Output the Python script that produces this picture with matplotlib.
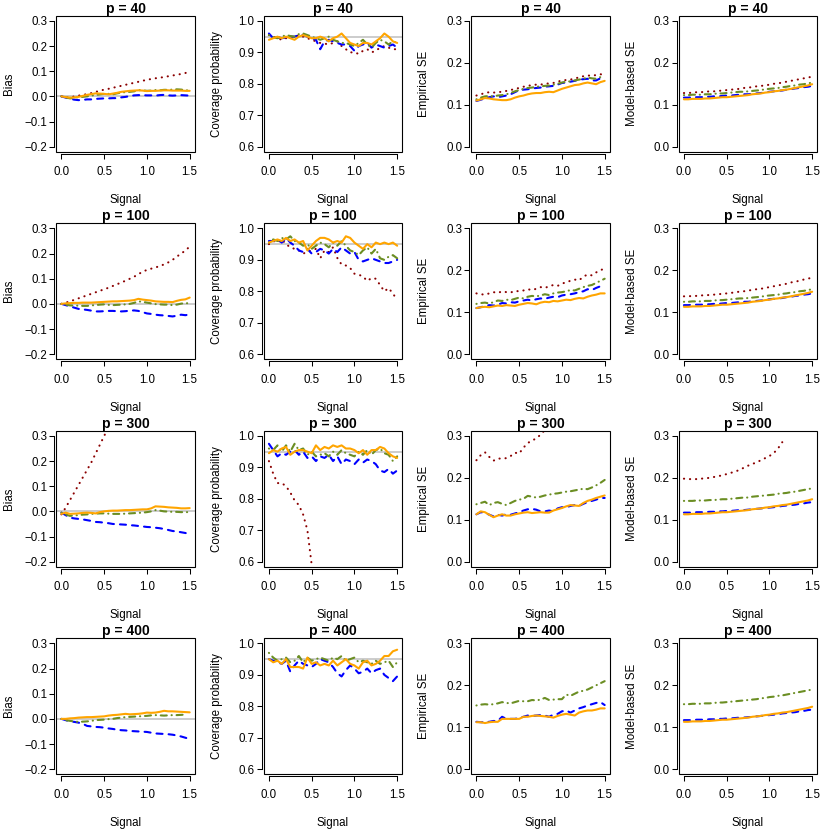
import numpy as np
import matplotlib.pyplot as plt
from matplotlib.patches import Rectangle

plt.rcParams['font.family'] = ['Liberation Sans', 'DejaVu Sans']

# ---------------------------
# 1. DATA
# ---------------------------
signal = [0.00, 0.05, 0.10, 0.15, 0.20, 0.25, 0.30, 0.35, 0.40, 0.45,
          0.50, 0.55, 0.60, 0.65, 0.70, 0.75, 0.80, 0.85, 0.90, 0.95,
          1.00, 1.05, 1.10, 1.15, 1.20, 1.25, 1.30, 1.35, 1.40, 1.45, 1.50]
p_values = [40, 100, 300, 400]

# --- p = 40 ---
bias_40_red = [0.000, -0.004, -0.005, 0.000, 0.003, 0.006, 0.009, 0.013, 0.018, 0.022,
               0.027, 0.030, 0.034, 0.038, 0.042, 0.046, 0.050, 0.054, 0.058, 0.062,
               0.066, 0.069, 0.072, 0.074, 0.077, 0.080, 0.083, 0.086, 0.089, 0.093, 0.097]
bias_40_blue = [0.000, -0.005, -0.010, -0.013, -0.015, -0.014, -0.012, -0.012, -0.010, -0.009,
                -0.008, -0.008, -0.007, -0.007, -0.004, -0.002, 0.001, 0.004, 0.005, 0.005,
                0.004, 0.004, 0.003, 0.005, 0.006, 0.004, 0.003, 0.004, 0.005, 0.004, 0.003]
bias_40_olive = [0.000, -0.004, -0.008, -0.006, -0.003, -0.002, 0.000, 0.003, 0.005, 0.008,
                 0.010, 0.010, 0.008, 0.012, 0.015, 0.017, 0.018, 0.020, 0.025, 0.024,
                 0.022, 0.023, 0.025, 0.024, 0.026, 0.026, 0.027, 0.028, 0.027, 0.025, 0.022]
bias_40_orange = [0.000, -0.003, -0.005, -0.004, -0.002, 0.002, 0.006, 0.009, 0.012, 0.011,
                  0.010, 0.008, 0.011, 0.014, 0.018, 0.020, 0.022, 0.023, 0.024, 0.023,
                  0.021, 0.022, 0.022, 0.023, 0.024, 0.024, 0.023, 0.023, 0.023, 0.022, 0.022]

cov_40_red = [0.955, 0.950, 0.945, 0.940, 0.945, 0.950, 0.948, 0.955, 0.950, 0.945,
              0.940, 0.935, 0.930, 0.928, 0.925, 0.930, 0.935, 0.920, 0.910, 0.900,
              0.900, 0.895, 0.905, 0.910, 0.900, 0.905, 0.915, 0.920, 0.915, 0.910, 0.910]
cov_40_blue = [0.960, 0.945, 0.948, 0.945, 0.947, 0.950, 0.950, 0.955, 0.955, 0.950,
               0.945, 0.940, 0.910, 0.935, 0.940, 0.935, 0.930, 0.925, 0.925, 0.920,
               0.905, 0.920, 0.925, 0.930, 0.915, 0.925, 0.920, 0.915, 0.920, 0.925, 0.915]
cov_40_olive = [0.955, 0.948, 0.945, 0.950, 0.955, 0.952, 0.950, 0.958, 0.960, 0.955,
                0.950, 0.945, 0.940, 0.945, 0.950, 0.940, 0.935, 0.930, 0.930, 0.925,
                0.920, 0.930, 0.940, 0.925, 0.915, 0.930, 0.940, 0.935, 0.925, 0.935, 0.930]
cov_40_orange = [0.940, 0.945, 0.950, 0.945, 0.950, 0.945, 0.940, 0.950, 0.955, 0.950,
                 0.945, 0.945, 0.950, 0.945, 0.935, 0.945, 0.950, 0.960, 0.945, 0.930,
                 0.925, 0.920, 0.930, 0.930, 0.925, 0.935, 0.945, 0.960, 0.950, 0.935, 0.930]

emp_40_red = [0.122, 0.125, 0.128, 0.130, 0.129, 0.130, 0.131, 0.133, 0.135, 0.138,
              0.140, 0.143, 0.145, 0.147, 0.148, 0.148, 0.150, 0.151, 0.152, 0.155,
              0.158, 0.159, 0.160, 0.163, 0.165, 0.168, 0.170, 0.169, 0.171, 0.173, 0.170]
emp_40_blue = [0.109, 0.112, 0.115, 0.118, 0.120, 0.118, 0.120, 0.122, 0.125, 0.130,
               0.135, 0.136, 0.137, 0.139, 0.140, 0.141, 0.143, 0.144, 0.145, 0.148,
               0.152, 0.153, 0.155, 0.157, 0.160, 0.161, 0.162, 0.158, 0.158, 0.163, 0.165]
emp_40_olive = [0.113, 0.117, 0.120, 0.121, 0.120, 0.122, 0.123, 0.125, 0.128, 0.132,
                0.135, 0.138, 0.140, 0.141, 0.143, 0.144, 0.145, 0.146, 0.148, 0.150,
                0.153, 0.155, 0.156, 0.158, 0.160, 0.162, 0.165, 0.163, 0.162, 0.166, 0.168]
emp_40_orange = [0.110, 0.113, 0.116, 0.115, 0.113, 0.112, 0.111, 0.111, 0.113, 0.117,
                 0.120, 0.122, 0.125, 0.127, 0.128, 0.128, 0.130, 0.131, 0.130, 0.134,
                 0.138, 0.141, 0.144, 0.147, 0.148, 0.151, 0.153, 0.151, 0.149, 0.154, 0.157]

mod_40_red = [0.128, 0.128, 0.129, 0.130, 0.130, 0.131, 0.132, 0.132, 0.133, 0.134,
              0.135, 0.136, 0.137, 0.138, 0.140, 0.141, 0.142, 0.144, 0.145, 0.146,
              0.148, 0.150, 0.151, 0.153, 0.155, 0.157, 0.159, 0.161, 0.163, 0.165, 0.167]
mod_40_blue = [0.117, 0.117, 0.118, 0.118, 0.118, 0.119, 0.119, 0.120, 0.120, 0.121,
               0.122, 0.122, 0.123, 0.124, 0.125, 0.125, 0.126, 0.127, 0.128, 0.129,
               0.131, 0.132, 0.133, 0.134, 0.136, 0.137, 0.139, 0.140, 0.142, 0.143, 0.145]
mod_40_olive = [0.123, 0.123, 0.124, 0.124, 0.124, 0.125, 0.125, 0.126, 0.127, 0.127,
                0.128, 0.129, 0.130, 0.131, 0.131, 0.132, 0.133, 0.134, 0.135, 0.137,
                0.138, 0.139, 0.140, 0.142, 0.143, 0.145, 0.146, 0.148, 0.149, 0.151, 0.153]
mod_40_orange = [0.113, 0.113, 0.114, 0.114, 0.114, 0.115, 0.115, 0.116, 0.117, 0.118,
                 0.118, 0.119, 0.120, 0.121, 0.122, 0.123, 0.125, 0.126, 0.127, 0.129,
                 0.130, 0.132, 0.133, 0.135, 0.136, 0.138, 0.140, 0.142, 0.144, 0.146, 0.149]

# --- p = 100 ---
bias_100_red = [0.000, 0.005, 0.010, 0.016, 0.022, 0.028, 0.034, 0.040, 0.046, 0.052,
                0.058, 0.064, 0.071, 0.078, 0.085, 0.092, 0.100, 0.108, 0.118, 0.128,
                0.135, 0.140, 0.145, 0.150, 0.157, 0.165, 0.175, 0.188, 0.200, 0.212, 0.228]
bias_100_blue = [0.000, -0.005, -0.010, -0.015, -0.020, -0.022, -0.024, -0.027, -0.030, -0.030,
                 -0.029, -0.028, -0.028, -0.029, -0.030, -0.029, -0.027, -0.026, -0.028, -0.033,
                 -0.038, -0.040, -0.043, -0.045, -0.046, -0.048, -0.050, -0.047, -0.043, -0.045, -0.042]
bias_100_olive = [0.000, -0.003, -0.006, -0.007, -0.007, -0.008, -0.008, -0.006, -0.005, -0.003,
                  -0.002, -0.004, -0.005, -0.004, -0.003, -0.002, 0.000, 0.004, 0.010, 0.008,
                  0.005, 0.002, -0.001, -0.002, -0.003, -0.003, -0.005, -0.003, 0.001, 0.003, 0.002]
bias_100_orange = [0.000, 0.002, 0.003, 0.004, 0.004, 0.005, 0.005, 0.005, 0.006, 0.007,
                   0.008, 0.009, 0.010, 0.010, 0.011, 0.012, 0.013, 0.015, 0.020, 0.017,
                   0.015, 0.013, 0.010, 0.009, 0.008, 0.008, 0.007, 0.012, 0.016, 0.018, 0.025]

cov_100_red = [0.950, 0.960, 0.955, 0.965, 0.950, 0.940, 0.935, 0.930, 0.920, 0.925,
               0.930, 0.935, 0.905, 0.930, 0.925, 0.940, 0.906, 0.885, 0.882, 0.874,
               0.856, 0.853, 0.847, 0.833, 0.842, 0.840, 0.820, 0.800, 0.810, 0.793, 0.772]
cov_100_blue = [0.960, 0.960, 0.965, 0.955, 0.970, 0.955, 0.945, 0.930, 0.925, 0.935,
                0.920, 0.925, 0.935, 0.930, 0.920, 0.935, 0.925, 0.940, 0.930, 0.920,
                0.925, 0.900, 0.895, 0.900, 0.905, 0.900, 0.895, 0.890, 0.890, 0.895, 0.900]
cov_100_olive = [0.955, 0.965, 0.960, 0.970, 0.965, 0.975, 0.960, 0.955, 0.945, 0.950,
                 0.935, 0.945, 0.955, 0.950, 0.940, 0.955, 0.945, 0.960, 0.945, 0.930,
                 0.925, 0.915, 0.930, 0.940, 0.920, 0.935, 0.905, 0.900, 0.910, 0.915, 0.905]
cov_100_orange = [0.955, 0.960, 0.965, 0.960, 0.970, 0.960, 0.965, 0.955, 0.960, 0.930,
                  0.945, 0.960, 0.970, 0.970, 0.965, 0.955, 0.960, 0.955, 0.975, 0.970,
                  0.955, 0.945, 0.935, 0.950, 0.940, 0.955, 0.950, 0.955, 0.950, 0.955, 0.945]

emp_100_red = [0.145, 0.143, 0.142, 0.145, 0.148, 0.146, 0.150, 0.148, 0.147, 0.151,
               0.150, 0.152, 0.155, 0.153, 0.156, 0.160, 0.158, 0.162, 0.165, 0.163,
               0.168, 0.172, 0.175, 0.178, 0.176, 0.185, 0.190, 0.188, 0.195, 0.200, 0.205]
emp_100_blue = [0.110, 0.112, 0.115, 0.117, 0.116, 0.118, 0.122, 0.121, 0.124, 0.123,
                0.126, 0.128, 0.130, 0.128, 0.131, 0.133, 0.132, 0.135, 0.137, 0.136,
                0.140, 0.142, 0.143, 0.145, 0.148, 0.150, 0.155, 0.153, 0.158, 0.162, 0.165]
emp_100_olive = [0.120, 0.122, 0.123, 0.121, 0.124, 0.128, 0.127, 0.130, 0.129, 0.132,
                 0.135, 0.133, 0.137, 0.139, 0.138, 0.140, 0.143, 0.141, 0.145, 0.147,
                 0.148, 0.150, 0.153, 0.152, 0.156, 0.160, 0.163, 0.165, 0.170, 0.175, 0.180]
emp_100_orange = [0.110, 0.112, 0.113, 0.112, 0.114, 0.116, 0.115, 0.117, 0.116, 0.115,
                  0.118, 0.120, 0.122, 0.121, 0.119, 0.123, 0.125, 0.124, 0.127, 0.126,
                  0.128, 0.130, 0.129, 0.132, 0.134, 0.133, 0.137, 0.140, 0.142, 0.145, 0.145]

mod_100_red = [0.138, 0.138, 0.139, 0.139, 0.140, 0.141, 0.141, 0.142, 0.143, 0.144,
               0.145, 0.146, 0.148, 0.149, 0.150, 0.152, 0.153, 0.155, 0.156, 0.158,
               0.160, 0.162, 0.164, 0.166, 0.168, 0.171, 0.173, 0.175, 0.178, 0.180, 0.183]
mod_100_blue = mod_40_blue
mod_100_olive = [0.125, 0.125, 0.126, 0.126, 0.126, 0.127, 0.127, 0.128, 0.129, 0.129,
                 0.130, 0.131, 0.132, 0.133, 0.133, 0.134, 0.135, 0.136, 0.137, 0.139,
                 0.140, 0.141, 0.142, 0.144, 0.145, 0.147, 0.148, 0.150, 0.151, 0.153, 0.155]
mod_100_orange = mod_40_orange

# --- p = 300 ---
bias_300_red = [-0.012, 0.015, 0.045, 0.075, 0.105, 0.135, 0.165, 0.195, 0.230, 0.265,
                0.300, 0.335]
bias_300_blue = [-0.005, -0.015, -0.025, -0.028, -0.030, -0.032, -0.035, -0.038, -0.042, -0.043,
                 -0.045, -0.047, -0.050, -0.051, -0.052, -0.053, -0.055, -0.056, -0.058, -0.060,
                 -0.062, -0.063, -0.065, -0.067, -0.070, -0.074, -0.078, -0.080, -0.083, -0.086, -0.090]
bias_300_olive = [-0.005, -0.012, -0.018, -0.016, -0.015, -0.013, -0.012, -0.010, -0.009, -0.008,
                  -0.008, -0.009, -0.010, -0.010, -0.010, -0.009, -0.008, -0.007, -0.006, -0.005,
                  -0.003, 0.000, 0.005, 0.003, 0.000, -0.001, -0.002, -0.002, -0.003, -0.003, -0.003]
bias_300_orange = [-0.010, -0.005, -0.010, -0.009, -0.008, -0.006, -0.005, -0.006, -0.008, -0.003,
                   0.000, 0.002, 0.003, 0.003, 0.004, 0.005, 0.005, 0.006, 0.007, 0.008,
                   0.008, 0.012, 0.020, 0.019, 0.018, 0.016, 0.015, 0.014, 0.012, 0.012, 0.013]

cov_300_red = [0.920, 0.880, 0.850, 0.850, 0.840, 0.820, 0.795, 0.780, 0.750, 0.700,
               0.590, 0.500]
cov_300_blue = [0.975, 0.955, 0.935, 0.945, 0.940, 0.950, 0.955, 0.940, 0.950, 0.930,
                0.935, 0.920, 0.935, 0.930, 0.940, 0.920, 0.935, 0.910, 0.925, 0.920,
                0.910, 0.925, 0.915, 0.925, 0.920, 0.910, 0.890, 0.885, 0.895, 0.880, 0.890]
cov_300_olive = [0.960, 0.955, 0.970, 0.950, 0.970, 0.950, 0.975, 0.955, 0.960, 0.940,
                 0.950, 0.935, 0.940, 0.945, 0.935, 0.950, 0.940, 0.955, 0.945, 0.940,
                 0.935, 0.950, 0.940, 0.955, 0.940, 0.955, 0.960, 0.945, 0.940, 0.920, 0.935]
cov_300_orange = [0.945, 0.955, 0.950, 0.960, 0.965, 0.940, 0.950, 0.955, 0.955, 0.950,
                  0.945, 0.970, 0.955, 0.965, 0.960, 0.970, 0.965, 0.970, 0.960, 0.960,
                  0.955, 0.945, 0.955, 0.940, 0.955, 0.955, 0.965, 0.960, 0.945, 0.935, 0.930]

emp_300_red = [0.242, 0.254, 0.261, 0.250, 0.241, 0.246, 0.246, 0.247, 0.252, 0.260,
               0.258, 0.272, 0.283, 0.289, 0.294, 0.303, 0.314, 0.326]
emp_300_blue = [0.113, 0.118, 0.117, 0.112, 0.108, 0.112, 0.110, 0.113, 0.112, 0.115,
                0.118, 0.122, 0.125, 0.126, 0.124, 0.120, 0.120, 0.122, 0.120, 0.127,
                0.130, 0.130, 0.133, 0.135, 0.133, 0.138, 0.142, 0.145, 0.148, 0.152, 0.152]
emp_300_olive = [0.137, 0.140, 0.143, 0.135, 0.140, 0.142, 0.138, 0.135, 0.140, 0.145,
                 0.148, 0.150, 0.157, 0.155, 0.153, 0.155, 0.158, 0.160, 0.162, 0.163,
                 0.165, 0.167, 0.168, 0.170, 0.172, 0.174, 0.173, 0.177, 0.182, 0.188, 0.195]
emp_300_orange = [0.113, 0.120, 0.118, 0.112, 0.106, 0.110, 0.113, 0.110, 0.110, 0.113,
                  0.115, 0.117, 0.118, 0.116, 0.117, 0.118, 0.117, 0.117, 0.122, 0.125,
                  0.128, 0.132, 0.135, 0.134, 0.133, 0.140, 0.145, 0.148, 0.152, 0.155, 0.158]

mod_300_red = [0.198, 0.197, 0.197, 0.197, 0.198, 0.199, 0.200, 0.202, 0.204, 0.206,
               0.209, 0.212, 0.215, 0.219, 0.224, 0.229, 0.233, 0.237, 0.242, 0.247,
               0.252, 0.259, 0.270, 0.285]
mod_300_blue = [0.117, 0.117, 0.117, 0.118, 0.118, 0.118, 0.119, 0.119, 0.120, 0.120,
                0.121, 0.121, 0.122, 0.123, 0.123, 0.124, 0.125, 0.126, 0.127, 0.128,
                0.129, 0.130, 0.131, 0.133, 0.134, 0.135, 0.136, 0.138, 0.139, 0.141, 0.142]
mod_300_olive = [0.145, 0.145, 0.145, 0.146, 0.146, 0.146, 0.147, 0.147, 0.148, 0.149,
                 0.149, 0.150, 0.151, 0.152, 0.153, 0.153, 0.155, 0.156, 0.157, 0.158,
                 0.159, 0.160, 0.162, 0.163, 0.164, 0.166, 0.167, 0.169, 0.171, 0.173, 0.175]
mod_300_orange = mod_40_orange

# --- p = 400 (no red series) ---
bias_400_blue = [0.000, -0.005, -0.010, -0.012, -0.015, -0.020, -0.028, -0.030, -0.032, -0.033,
                 -0.035, -0.038, -0.040, -0.043, -0.045, -0.046, -0.048, -0.049, -0.050, -0.051,
                 -0.052, -0.055, -0.058, -0.059, -0.060, -0.061, -0.063, -0.066, -0.070, -0.075, -0.080]
bias_400_olive = [0.000, -0.005, -0.008, -0.010, -0.012, -0.011, -0.010, -0.008, -0.005, -0.004,
                  -0.003, -0.001, 0.000, 0.003, 0.005, 0.007, 0.008, 0.009, 0.010, 0.011,
                  0.012, 0.014, 0.015, 0.014, 0.013, 0.014, 0.015, 0.015, 0.016, 0.017]
bias_400_orange = [0.000, 0.000, 0.002, 0.003, 0.005, 0.006, 0.007, 0.007, 0.008, 0.009,
                   0.010, 0.013, 0.015, 0.016, 0.018, 0.020, 0.018, 0.019, 0.020, 0.022,
                   0.025, 0.024, 0.025, 0.028, 0.032, 0.030, 0.030, 0.029, 0.028, 0.027, 0.026]

cov_400_blue = [0.950, 0.945, 0.940, 0.935, 0.945, 0.910, 0.930, 0.945, 0.935, 0.930,
                0.925, 0.935, 0.950, 0.945, 0.940, 0.925, 0.905, 0.895, 0.915, 0.930,
                0.920, 0.905, 0.910, 0.920, 0.905, 0.915, 0.920, 0.900, 0.890, 0.880, 0.895]
cov_400_olive = [0.970, 0.955, 0.945, 0.950, 0.955, 0.940, 0.945, 0.960, 0.940, 0.955,
                 0.945, 0.950, 0.955, 0.950, 0.945, 0.955, 0.950, 0.960, 0.945, 0.950,
                 0.955, 0.940, 0.945, 0.940, 0.935, 0.945, 0.935, 0.940, 0.945, 0.925, 0.940]
cov_400_orange = [0.950, 0.940, 0.945, 0.935, 0.950, 0.925, 0.925, 0.925, 0.920, 0.955,
                  0.935, 0.940, 0.930, 0.935, 0.930, 0.945, 0.930, 0.940, 0.950, 0.935,
                  0.930, 0.920, 0.940, 0.945, 0.930, 0.935, 0.945, 0.960, 0.960, 0.975, 0.980]

emp_400_blue = [0.113, 0.112, 0.112, 0.113, 0.115, 0.115, 0.125, 0.120, 0.120, 0.120,
                0.122, 0.125, 0.128, 0.127, 0.128, 0.129, 0.128, 0.125, 0.130, 0.132,
                0.138, 0.140, 0.135, 0.140, 0.145, 0.148, 0.152, 0.155, 0.158, 0.160, 0.153]
emp_400_olive = [0.152, 0.154, 0.155, 0.154, 0.155, 0.157, 0.160, 0.158, 0.157, 0.160,
                 0.163, 0.162, 0.162, 0.165, 0.164, 0.166, 0.170, 0.165, 0.166, 0.167,
                 0.167, 0.178, 0.175, 0.180, 0.185, 0.187, 0.190, 0.195, 0.200, 0.205, 0.210]
emp_400_orange = [0.112, 0.112, 0.110, 0.112, 0.113, 0.113, 0.120, 0.120, 0.120, 0.120,
                  0.120, 0.125, 0.125, 0.127, 0.128, 0.127, 0.126, 0.125, 0.123, 0.127,
                  0.130, 0.132, 0.130, 0.128, 0.135, 0.138, 0.140, 0.140, 0.142, 0.145, 0.145]

mod_400_blue = mod_300_blue
mod_400_olive = [0.155, 0.155, 0.156, 0.156, 0.156, 0.157, 0.157, 0.158, 0.159, 0.159,
                 0.160, 0.161, 0.162, 0.163, 0.164, 0.165, 0.166, 0.167, 0.169, 0.170,
                 0.172, 0.173, 0.175, 0.176, 0.178, 0.180, 0.182, 0.184, 0.186, 0.188, 0.190]
mod_400_orange = mod_40_orange

# ---------------------------
# 2. PANEL SETUP
# ---------------------------
# order of drawing: red, blue, olive, orange
rows = {
    40: [[bias_40_red, bias_40_blue, bias_40_olive, bias_40_orange],
         [cov_40_red, cov_40_blue, cov_40_olive, cov_40_orange],
         [emp_40_red, emp_40_blue, emp_40_olive, emp_40_orange],
         [mod_40_red, mod_40_blue, mod_40_olive, mod_40_orange]],
    100: [[bias_100_red, bias_100_blue, bias_100_olive, bias_100_orange],
          [cov_100_red, cov_100_blue, cov_100_olive, cov_100_orange],
          [emp_100_red, emp_100_blue, emp_100_olive, emp_100_orange],
          [mod_100_red, mod_100_blue, mod_100_olive, mod_100_orange]],
    300: [[bias_300_red, bias_300_blue, bias_300_olive, bias_300_orange],
          [cov_300_red, cov_300_blue, cov_300_olive, cov_300_orange],
          [emp_300_red, emp_300_blue, emp_300_olive, emp_300_orange],
          [mod_300_red, mod_300_blue, mod_300_olive, mod_300_orange]],
    400: [[None, bias_400_blue, bias_400_olive, bias_400_orange],
          [None, cov_400_blue, cov_400_olive, cov_400_orange],
          [None, emp_400_blue, emp_400_olive, emp_400_orange],
          [None, mod_400_blue, mod_400_olive, mod_400_orange]],
}

# (ylabel, y ticks, reference line)
metrics = [
    ("Bias", [-0.2, -0.1, 0.0, 0.1, 0.2, 0.3], 0.0),
    ("Coverage probability", [0.6, 0.7, 0.8, 0.9, 1.0], 0.95),
    ("Empirical SE", [0.0, 0.1, 0.2, 0.3], None),
    ("Model-based SE", [0.0, 0.1, 0.2, 0.3], None),
]

series_styles = [
    dict(color="#8B0000", linestyle=(0, (0.1, 2.8))),               # dotted
    dict(color="#0000FF", linestyle=(0, (2.9, 2.9))),               # dashed
    dict(color="#6B8E23", linestyle=(0, (0.1, 2.3, 2.9, 2.3))),     # dot-dash
    dict(color="#FFA500", linestyle="-"),                            # solid
]

# ---------------------------
# 3. DRAW
# ---------------------------
FIG_PX = 830
CELL = FIG_PX / 4
fig = plt.figure(figsize=(8.3, 8.3), dpi=100)

for r, p in enumerate(p_values):
    for c, (ylabel, yticks, ref) in enumerate(metrics):
        left = (c * CELL + 56.3) / FIG_PX
        bottom = 1 - (r * CELL + 151.7) / FIG_PX
        ax = fig.add_axes([left, bottom, 138.5 / FIG_PX, 135.8 / FIG_PX])

        if ref is not None:
            ax.axhline(ref, color="#C4C4C4", lw=1.2, zorder=1)

        for vals, st in zip(rows[p][c], series_styles):
            if vals is None:
                continue
            ax.plot(signal[:len(vals)], vals, lw=1.5, color=st["color"],
                    linestyle=st["linestyle"], dash_capstyle="round",
                    solid_capstyle="round", solid_joinstyle="round", zorder=2)

        # R-style 4% padding
        ylo, yhi = yticks[0], yticks[-1]
        pad = 0.04 * (yhi - ylo)
        ax.set_ylim(ylo - pad, yhi + pad)
        ax.set_xlim(-0.06, 1.56)

        ax.set_xticks([0.0, 0.5, 1.0, 1.5])
        ax.set_xticklabels(["0.0", "0.5", "1.0", "1.5"])
        ax.set_yticks(yticks)
        ax.set_yticklabels([f"{v:.1f}".replace("-", "\u2212") for v in yticks])

        # axis lines slightly detached from the box, like base R graphics
        for side in ("top", "right"):
            ax.spines[side].set_visible(False)
        ax.spines["left"].set_position(("outward", 1.5))
        ax.spines["bottom"].set_position(("outward", 1.5))
        ax.spines["left"].set_bounds(ylo, yhi)
        ax.spines["bottom"].set_bounds(0.0, 1.5)
        for side in ("left", "bottom"):
            ax.spines[side].set_linewidth(0.75)
        ax.add_patch(Rectangle((0, 0), 1, 1, transform=ax.transAxes, fill=False,
                               lw=0.8, edgecolor="black", clip_on=False, zorder=3))

        ax.tick_params(axis="both", direction="out", length=3.3, width=0.75,
                       labelsize=8.3, colors="black")
        ax.tick_params(axis="x", pad=5.8)
        ax.tick_params(axis="y", pad=1.8)

        ax.set_title(f"p = {p}", fontsize=10, fontweight="bold", pad=1.7)
        ax.text(0.5, -0.356, "Signal", transform=ax.transAxes, ha="center",
                va="center", fontsize=8.3)
        ax.text(-0.339, 0.5, ylabel, transform=ax.transAxes, ha="center",
                va="center", rotation=90, fontsize=8.3)

fig.savefig("out.png", dpi=100)
